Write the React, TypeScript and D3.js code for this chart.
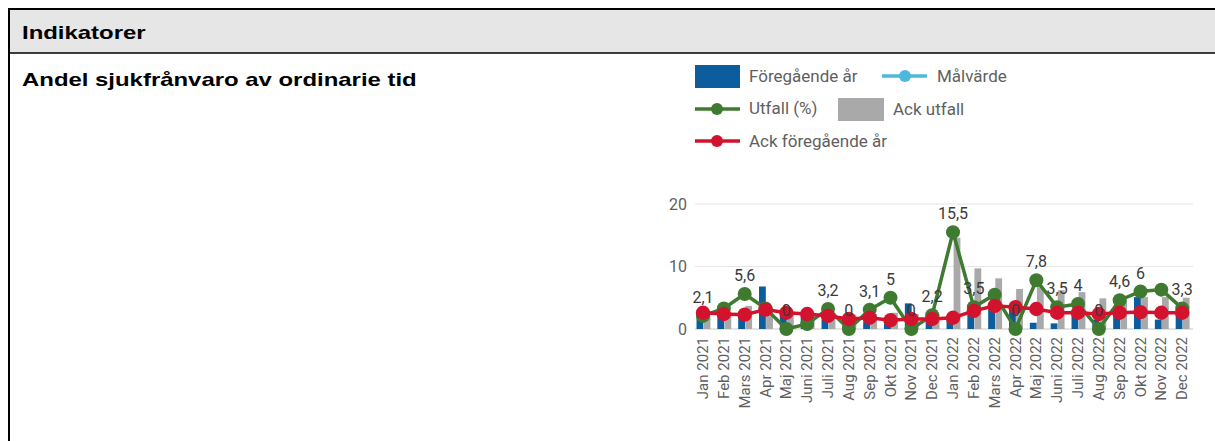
import React from "react";
import * as d3 from "d3";

const months = [
  "Jan 2021", "Feb 2021", "Mars 2021", "Apr 2021", "Maj 2021", "Juni 2021",
  "Juli 2021", "Aug 2021", "Sep 2021", "Okt 2021", "Nov 2021", "Dec 2021",
  "Jan 2022", "Feb 2022", "Mars 2022", "Apr 2022", "Maj 2022", "Juni 2022",
  "Juli 2022", "Aug 2022", "Sep 2022", "Okt 2022", "Nov 2022", "Dec 2022",
];
const foregaendeAr = [3.0, 3.2, 2.6, 6.8, 2.5, 2.0, 1.5, 1.0, 1.2, 1.0, 4.1, 1.5,
  1.8, 2.6, 3.5, 3.7, 1.0, 0.9, 3.0, 1.5, 2.5, 5.1, 1.5, 2.5];
const ackUtfall = [2.1, 2.7, 3.7, 3.4, 2.8, 2.5, 2.6, 2.3, 2.4, 2.6, 2.4, 2.4,
  14.6, 9.7, 8.1, 6.4, 6.7, 6.2, 5.9, 4.9, 4.6, 5.1, 5.1, 5.0];
const utfall = [2.1, 3.3, 5.6, 3.3, 0, 0.8, 3.2, 0, 3.1, 5, 0, 2.2,
  15.5, 3.5, 5.5, 0, 7.8, 3.5, 4, 0, 4.6, 6, 6.3, 3.3];
const ackForegaendeAr = [2.6, 2.4, 2.3, 3.1, 2.6, 2.4, 2.1, 1.6, 1.8, 1.4, 1.6, 1.6,
  1.8, 2.9, 3.7, 3.5, 3.2, 2.6, 2.6, 2.4, 2.6, 2.7, 2.6, 2.6];
const hiddenLabels = ["Feb 2021", "Apr 2021", "Juni 2021", "Mars 2022", "Nov 2022"];
const yTicks = [0, 10, 20];

const C = {
  blue: "#0b5d9e",
  lightBlue: "#4cb8dd",
  green: "#3e7b31",
  red: "#d3132e",
  gray: "#a9a9a9",
  text: "#5f5f5f",
};

const fmt = (v: number) => String(v).replace(".", ",");

export default function App() {
  const x = d3.scaleBand<string>().domain(months).range([692.6, 1192.6]).padding(0);
  const y = d3.scaleLinear().domain([0, 20]).range([329, 204]);
  const cx = (m: string) => (x(m) as number) + x.bandwidth() / 2;

  const greenLine = d3.line<number>().x((_, i) => cx(months[i])).y((d) => y(d));
  const redLine = d3.line<number>().x((_, i) => cx(months[i])).y((d) => y(d));

  const chartFont = "Roboto, 'Noto Sans', sans-serif";
  const headFont = "'Liberation Sans', Arial, sans-serif";
  const legendFs = 17;

  return (
    <svg width={1215} height={441} style={{ position: "absolute", left: 0, top: 0 }}
      xmlns="http://www.w3.org/2000/svg">
      <rect x={0} y={0} width={1215} height={441} fill="#fff" />
      {/* panel */}
      <rect x={9} y={9} width={1215} height={44} fill="#e6e6e6" />
      <line x1={8} x2={1215} y1={9} y2={9} stroke="#000" strokeWidth={2} />
      <line x1={9} x2={9} y1={8} y2={441} stroke="#000" strokeWidth={2} />
      <line x1={8} x2={1215} y1={53} y2={53} stroke="#000" strokeWidth={1.5} />
      <text transform="translate(22,39) scale(1.33,1)" fontFamily={headFont} fontWeight="bold"
        fontSize={18} fill="#000">Indikatorer</text>
      <text transform="translate(22,86) scale(1.33,1)" fontFamily={headFont} fontWeight="bold"
        fontSize={18} fill="#000">Andel sjukfrånvaro av ordinarie tid</text>

      {/* legend */}
      <g fontFamily={chartFont} fontSize={legendFs} fill={C.text}>
        <rect x={695} y={65} width={45} height={23} fill={C.blue} />
        <text x={749} y={82}>Föregående år</text>
        <line x1={882} x2={927} y1={76} y2={76} stroke={C.lightBlue} strokeWidth={3.5} />
        <circle cx={905} cy={76} r={6} fill={C.lightBlue} />
        <text x={937} y={82}>Målvärde</text>
        <line x1={695} x2={740} y1={109} y2={109} stroke={C.green} strokeWidth={3.5} />
        <circle cx={717} cy={109} r={6} fill={C.green} />
        <text x={749} y={114}>Utfall (%)</text>
        <rect x={838} y={98} width={46} height={23} fill={C.gray} />
        <text x={893} y={115}>Ack utfall</text>
        <line x1={695} x2={740} y1={141} y2={141} stroke={C.red} strokeWidth={3.5} />
        <circle cx={717} cy={141} r={6} fill={C.red} />
        <text x={749} y={147}>Ack föregående år</text>
      </g>

      {/* grid + y ticks */}
      {yTicks.map((t) => (
        <g key={t}>
          <line x1={695} x2={1193} y1={y(t)} y2={y(t)}
            stroke={t === 0 ? "#c8c8c8" : "#e6e6e6"} strokeWidth={1.2} />
          <text x={687} y={y(t)} dy="0.35em" textAnchor="end" fontFamily={chartFont}
            fontSize={16} fill={C.text}>{t}</text>
        </g>
      ))}

      {/* bars */}
      {months.map((m, i) => (
        <g key={"b" + m}>
          <rect x={cx(m) - 6.5} width={6.8} y={y(foregaendeAr[i])}
            height={y(0) - y(foregaendeAr[i])} fill={C.blue} />
          <rect x={cx(m) + 0.6} width={6.8} y={y(ackUtfall[i])}
            height={y(0) - y(ackUtfall[i])} fill={C.gray} />
        </g>
      ))}

      {/* utfall */}
      <path d={greenLine(utfall) || ""} fill="none" stroke={C.green} strokeWidth={3.5} />
      {utfall.map((v, i) => (
        <circle key={"g" + i} cx={cx(months[i])} cy={y(v)} r={7} fill={C.green} />
      ))}

      {/* ack föregående år */}
      <path d={redLine(ackForegaendeAr) || ""} fill="none" stroke={C.red} strokeWidth={3.5} />
      {ackForegaendeAr.map((v, i) => (
        <circle key={"r" + i} cx={cx(months[i])} cy={y(v)} r={7.2} fill={C.red} />
      ))}

      {/* data labels */}
      {utfall.map((v, i) =>
        hiddenLabels.includes(months[i]) ? null : (
          <text key={"l" + i} x={cx(months[i])} y={y(v) - 13} textAnchor="middle"
            fontFamily={chartFont} fontSize={16} fill="#3a3a3a">{fmt(v)}</text>
        )
      )}

      {/* x labels */}
      {months.map((m) => (
        <text key={"x" + m} transform={`translate(${cx(m) + 5},${337}) rotate(-90)`}
          textAnchor="end" fontFamily={chartFont} fontSize={15} fill={C.text}>{m}</text>
      ))}
    </svg>
  );
}
